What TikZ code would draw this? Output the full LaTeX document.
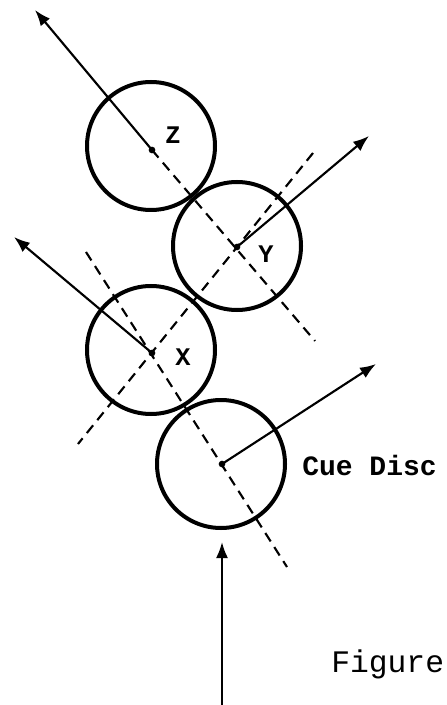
\documentclass[tikz,border=0pt]{standalone}
\usepackage{fontspec}
\setmonofont{Liberation Mono}
\usetikzlibrary{arrows.meta}
\begin{document}
\begin{tikzpicture}[x=0.75pt,y=-0.75pt,
  disc/.style={circle,draw,line width=3pt,minimum size=96pt,inner sep=0pt},
  ctr/.style={circle,fill,inner sep=0pt,minimum size=5pt},
  motion/.style={line width=1.6pt,-{Latex[length=12pt,width=9pt]}},
  axis/.style={line width=1.6pt,dash pattern=on 7.5pt off 5pt},
  lbl/.style={font=\ttfamily\bfseries\fontsize{19}{20}\selectfont,inner sep=0pt},
  caplbl/.style={font=\ttfamily\bfseries\fontsize{21}{22}\selectfont,inner sep=0pt,anchor=west},
  figlbl/.style={font=\ttfamily\fontsize{23.5}{24}\selectfont,inner sep=0pt,anchor=base west}]
\useasboundingbox (0,0) rectangle (446,705);
\fill[white] (0,0) rectangle (446,705);
% discs
\node[disc] (Z) at (151,146) {};
\node[disc] (Y) at (237,246) {};
\node[disc] (X) at (151,350) {};
\node[disc] (C) at (221,464) {};
% centre dots
\node[ctr] (zc) at (152,150) {};
\node[ctr] (yc) at (237,247) {};
\node[ctr] (xc) at (152,353) {};
\node[ctr] (cc) at (222,464) {};
% dashed lines of centres
\coordinate (zyEnd) at (315,341);
\coordinate (xyTop) at (313,153);
\coordinate (xyBot) at (78,444);
\coordinate (xcTop) at (86,252);
\coordinate (xcBot) at (287,567);
\draw[axis] (zc.center) -- (zyEnd);
\draw[axis] (xyTop) -- (xyBot);
\draw[axis] (xcTop) -- (xcBot);
% motion arrows
\coordinate (zTip) at (35,10);
\coordinate (yTip) at (369,136);
\coordinate (xTip) at (14,237);
\coordinate (cTip) at (376,364);
\coordinate (cueStart) at (222,712);
\coordinate (cueTip) at (222,542);
\draw[motion] (zc.center) -- (zTip);
\draw[motion] (yc.center) -- (yTip);
\draw[motion] (xc.center) -- (xTip);
\draw[motion] (cc.center) -- (cTip);
\draw[motion] (cueStart) -- (cueTip);
% labels
\node[lbl] (zl) at (173,135) {Z};
\node[lbl] (yl) at (266,254) {Y};
\node[lbl] (xl) at (183,357) {X};
\node[caplbl] (cl) at (302,465) {Cue Disc};
\node[figlbl] (fl) at (331,672) {Figure};
\end{tikzpicture}
\end{document}
